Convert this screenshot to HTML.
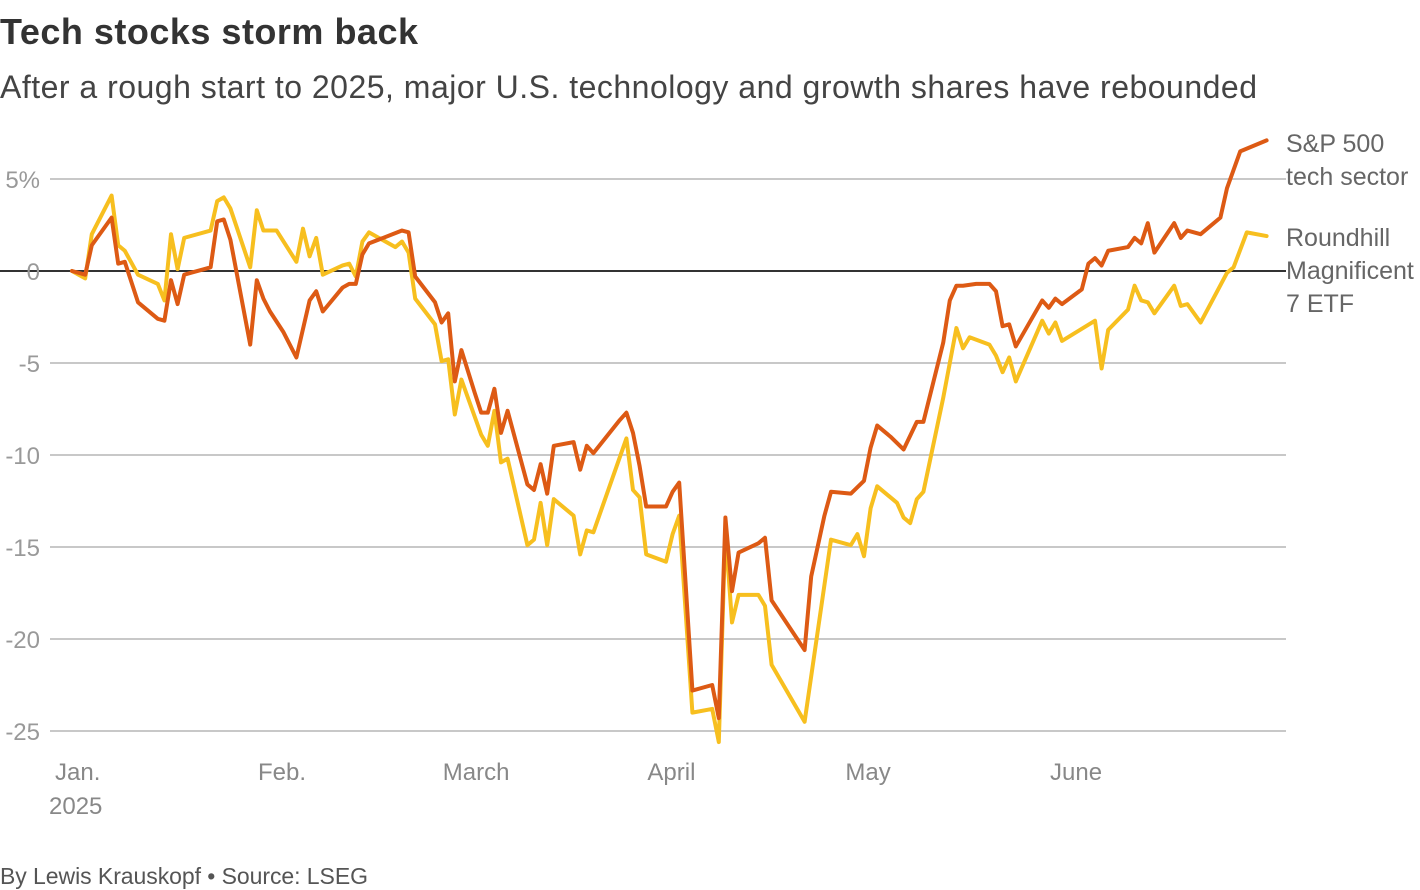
<!DOCTYPE html>
<html><head><meta charset="utf-8"><style>
body{margin:0;background:#fff;width:1420px;height:890px;overflow:hidden;font-family:"Liberation Sans",sans-serif}
</style></head><body>
<svg width="1420" height="890" style="position:absolute;left:0;top:0;font-family:'Liberation Sans',sans-serif">
<text x="0" y="44" font-size="36" font-weight="bold" fill="#333" textLength="418">Tech stocks storm back</text>
<text x="0" y="98" font-size="32" fill="#444" textLength="1257">After a rough start to 2025, major U.S. technology and growth shares have rebounded</text>
<g id="grid"></g><g id="ylab"></g><g id="xlab"></g><g id="lines"></g>
<text x="1286" y="152" font-size="25" fill="#666"><tspan x="1286">S&amp;P 500</tspan><tspan x="1286" dy="33">tech sector</tspan></text>
<text x="1286" y="246" font-size="25" fill="#666"><tspan x="1286">Roundhill</tspan><tspan x="1286" dy="33">Magnificent</tspan><tspan x="1286" dy="33">7 ETF</tspan></text>
<text x="0" y="884" font-size="23" fill="#555" textLength="368">By Lewis Krauskopf • Source: LSEG</text>
</svg>
<script>
const yTicks=[5,0,-5,-10,-15,-20,-25];
const yTickLabels=["5%","0","-5","-10","-15","-20","-25"];
const monthDays=[0,30,58,89,119,150];
const monthLabels=["Jan.","Feb.","March","April","May","June"];
const techDays=[0,2,3,6,7,8,10,13,14,15,16,17,18,20,21,22,23,24,27,28,29,30,32,34,36,37,38,41,42,43,44,45,50,51,52,55,56,57,58,59,61,62,63,64,65,66,69,70,71,72,73,76,77,78,79,83,84,85,86,87,90,91,92,94,97,98,99,100,101,104,105,106,111,112,114,115,118,120,121,122,124,126,128,129,132,133,134,135,137,139,140,141,142,143,147,148,149,150,153,154,155,156,157,160,161,162,163,164,167,168,169,171,174,175,176,177,181];
const techValues=[0,-0.2,1.4,2.9,0.4,0.5,-1.7,-2.6,-2.7,-0.5,-1.8,-0.2,-0.1,0.1,0.2,2.7,2.8,1.7,-4.0,-0.5,-1.5,-2.2,-3.3,-4.7,-1.6,-1.1,-2.2,-0.9,-0.7,-0.7,0.9,1.5,2.2,2.1,-0.3,-1.7,-2.8,-2.3,-6.0,-4.3,-6.6,-7.7,-7.7,-6.4,-8.8,-7.6,-11.6,-11.9,-10.5,-12.1,-9.5,-9.3,-10.8,-9.5,-9.9,-8.1,-7.7,-8.8,-10.6,-12.8,-12.8,-12.0,-11.5,-22.8,-22.5,-24.3,-13.4,-17.4,-15.3,-14.8,-14.5,-17.9,-20.6,-16.6,-13.3,-12.0,-12.1,-11.4,-9.6,-8.4,-9.0,-9.7,-8.2,-8.2,-3.9,-1.6,-0.8,-0.8,-0.7,-0.7,-1.1,-3.0,-2.9,-4.1,-1.6,-2.0,-1.5,-1.8,-1.0,0.4,0.7,0.3,1.1,1.3,1.8,1.5,2.6,1.0,2.6,1.8,2.2,2.0,2.9,4.5,5.5,6.5,7.1];
const mag7Days=[0,2,3,6,7,8,10,13,14,15,16,17,21,22,23,24,27,28,29,31,34,35,36,37,38,41,42,43,44,45,49,50,51,52,55,56,57,58,59,62,63,64,65,66,69,70,71,72,73,76,77,78,79,84,85,86,87,90,91,92,94,97,98,99,100,101,104,105,106,111,115,118,119,120,121,122,125,126,127,128,129,132,134,135,136,139,140,141,142,143,147,148,149,150,155,156,157,160,161,162,163,164,167,168,169,171,175,176,178,181];
const mag7Values=[0,-0.4,2.0,4.1,1.4,1.1,-0.2,-0.7,-1.6,2.0,0.1,1.8,2.2,3.8,4.0,3.4,0.2,3.3,2.2,2.2,0.5,2.3,0.8,1.8,-0.2,0.3,0.4,-0.3,1.6,2.1,1.3,1.6,1.0,-1.5,-2.9,-4.9,-4.8,-7.8,-5.9,-8.9,-9.5,-7.6,-10.4,-10.2,-14.9,-14.6,-12.6,-14.9,-12.4,-13.3,-15.4,-14.1,-14.2,-9.1,-11.9,-12.3,-15.4,-15.8,-14.3,-13.3,-24.0,-23.8,-25.6,-14.1,-19.1,-17.6,-17.6,-18.2,-21.4,-24.5,-14.6,-14.9,-14.3,-15.5,-12.9,-11.7,-12.6,-13.4,-13.7,-12.4,-12.0,-6.9,-3.1,-4.2,-3.6,-4.0,-4.6,-5.5,-4.7,-6.0,-2.7,-3.4,-2.8,-3.8,-2.7,-5.3,-3.2,-2.1,-0.8,-1.6,-1.7,-2.3,-0.8,-1.9,-1.8,-2.8,-0.1,0.2,2.1,1.9];
const NS="http://www.w3.org/2000/svg";
const x=d=>72+d*6.6;
const y=v=>271-v*18.4;
function mk(tag,parent){const e=document.createElementNS(NS,tag);document.getElementById(parent).appendChild(e);return e;}
yTicks.forEach((t,i)=>{
  const l=mk('line','grid');
  
  
  l.setAttribute('x1',t===0?0:50);l.setAttribute('x2',1286);l.setAttribute('y1',y(t));l.setAttribute('y2',y(t));
  l.setAttribute('stroke',t===0?'#333':'#c8c8c8');l.setAttribute('stroke-width',2);
  const tx=mk('text','ylab');
  
  
  tx.setAttribute('x',40);tx.setAttribute('y',y(t)+9);tx.setAttribute('text-anchor','end');
  tx.setAttribute('font-size','24');tx.setAttribute('fill','#999');tx.textContent=yTickLabels[i];
});
monthDays.forEach((d,i)=>{
  const tx=mk('text','xlab');
  
  
  tx.setAttribute('x',i===0?55:x(d)-12);tx.setAttribute('y',780);tx.setAttribute('font-size','24');tx.setAttribute('fill','#888');
  tx.textContent=monthLabels[i];
});
const yr=mk('text','xlab');


yr.setAttribute('x',49);yr.setAttribute('y',814);yr.setAttribute('font-size','24');yr.setAttribute('fill','#888');yr.textContent='2025';
function line(days,vals,color,name){
  const p=mk('polyline','lines');
  
  
  p.setAttribute('points',days.map((d,i)=>x(d)+','+y(vals[i])).join(' '));
  p.setAttribute('fill','none');p.setAttribute('stroke',color);p.setAttribute('stroke-width',4);
  p.setAttribute('stroke-linejoin','round');p.setAttribute('stroke-linecap','round');
}
line(mag7Days,mag7Values,'#f7bf1f','mag7-line');
line(techDays,techValues,'#dd5a14','sp500-tech-line');
</script>
</body></html>
